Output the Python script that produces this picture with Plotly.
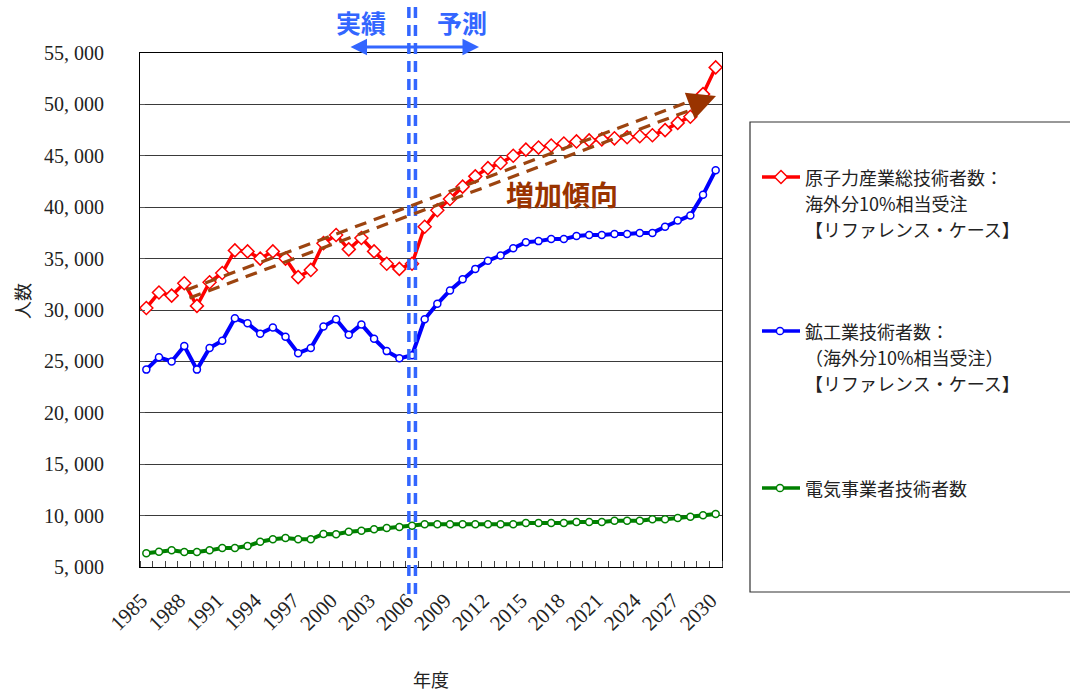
import plotly.graph_objects as go

# ---- data -------------------------------------------------------------
years = list(range(1985, 2031))

nuclear_total = [30200, 31700, 31400, 32600, 30400, 32700, 33600, 35800, 35700, 35000, 35700,
                 35000, 33200, 33900, 36500, 37300, 35900, 37000, 35700, 34500, 34000, 34500,
                 38100, 39700, 40800, 42000, 43000, 43800, 44300, 45000, 45600, 45800, 46000,
                 46200, 46400, 46500, 46600, 46700, 46800, 46900, 47000, 47500, 48200, 48800,
                 51000, 53600]

mining_industry = [24200, 25400, 25000, 26500, 24200, 26300, 27000, 29200, 28700, 27700, 28300,
                   27400, 25800, 26300, 28400, 29100, 27600, 28600, 27200, 26000, 25300, 25600,
                   29100, 30600, 31900, 33000, 34000, 34800, 35300, 36000, 36600, 36700, 36900,
                   36900, 37200, 37300, 37300, 37400, 37400, 37500, 37500, 38100, 38700, 39200,
                   41200, 43600]

electric_utility = [6330, 6490, 6620, 6460, 6460, 6620, 6850, 6850, 7040, 7460, 7690,
                    7820, 7690, 7690, 8210, 8180, 8430, 8530, 8670, 8790, 8890, 9020,
                    9150, 9150, 9150, 9150, 9150, 9150, 9150, 9150, 9280, 9280, 9280,
                    9280, 9380, 9380, 9380, 9500, 9500, 9500, 9640, 9640, 9770, 9890,
                    10030, 10160]

x_ticks = list(range(1985, 2031, 3))
y_ticks = list(range(5000, 55001, 5000))
y_ticktext = ["5, 000", "10, 000", "15, 000", "20, 000", "25, 000", "30, 000",
              "35, 000", "40, 000", "45, 000", "50, 000", "55, 000"]

boundary_year = 2006

legend_lines = [
    ["原子力産業総技術者数：", "海外分10%相当受注", "【リファレンス・ケース】"],
    ["鉱工業技術者数：", "（海外分10%相当受注）", "【リファレンス・ケース】"],
    ["電気事業者技術者数"],
]

# ---- layout geometry ----------------------------------------------------
W, H = 1070, 693
ML, MR, MT, MB = 140, 348, 53, 126
PW, PH = W - ML - MR, H - MT - MB

JP = "Noto Sans CJK JP"
SERIF = "Liberation Serif"
RED, BLUE, GREEN = "#ff0000", "#0000ff", "#008000"
MARK_BLUE = "#3366ff"
BROWN = "#993300"


def px(x, y):
    """pixel position -> paper coordinates"""
    return (x - ML) / PW, (MT + PH - y) / PH


def label(text, x, y, size, color="#222", xanchor="center", yanchor="middle", **kw):
    xp, yp = px(x, y)
    return dict(text=text, xref="paper", yref="paper", x=xp, y=yp,
                xanchor=xanchor, yanchor=yanchor, showarrow=False,
                font=dict(family=JP, size=size, color=color), **kw)


fig = go.Figure()

fig.add_trace(go.Scatter(
    x=years, y=nuclear_total, mode="lines+markers",
    line=dict(color=RED, width=3.5),
    marker=dict(symbol="diamond", size=10, color="white", line=dict(color=RED, width=1.5)),
    showlegend=False))
fig.add_trace(go.Scatter(
    x=years, y=mining_industry, mode="lines+markers",
    line=dict(color=BLUE, width=4),
    marker=dict(symbol="circle", size=7, color="white", line=dict(color=BLUE, width=1.5)),
    showlegend=False))
fig.add_trace(go.Scatter(
    x=years, y=electric_utility, mode="lines+markers",
    line=dict(color=GREEN, width=4),
    marker=dict(symbol="circle", size=7, color="white", line=dict(color=GREEN, width=1.5)),
    showlegend=False))

shapes = []
annotations = []

# double dashed divider between actual and forecast
for dx in (-0.25, 0.27):
    shapes.append(dict(type="line", xref="x", yref="paper",
                       x0=boundary_year + dx, x1=boundary_year + dx,
                       y0=px(0, 594)[1], y1=px(0, 2)[1],
                       line=dict(color=MARK_BLUE, width=3.5, dash="11px,7px"),
                       layer="above"))

# actual / forecast labels with two-way arrow
annotations.append(label("<b>実績</b>", 361, 22, 25, MARK_BLUE))
annotations.append(label("<b>予測</b>", 462, 22, 25, MARK_BLUE))
ax0, ay0 = px(479, 47)
annotations.append(dict(text="", xref="paper", yref="paper", x=ax0, y=ay0,
                        ax=-130, ay=0, showarrow=True, arrowside="end+start",
                        arrowhead=2, arrowsize=1.1, arrowwidth=3, arrowcolor=MARK_BLUE))

# upward-trend arrow (double dashed line with a solid head)
sx, sy = 188.0, 294.0
tx, ty = 716.0, 96.0
L = ((tx - sx) ** 2 + (ty - sy) ** 2) ** 0.5
ux, uy = (tx - sx) / L, (ty - sy) / L
nx, ny = -uy, ux
head_len, head_half = 28.0, 14.0
bx, by = tx - head_len * ux, ty - head_len * uy
for off in (-4.2, 4.2):
    p0 = px(sx + off * nx, sy + off * ny)
    p1 = px(bx + 2 * ux + off * nx, by + 2 * uy + off * ny)
    shapes.append(dict(type="line", xref="paper", yref="paper",
                       x0=p0[0], y0=p0[1], x1=p1[0], y1=p1[1],
                       line=dict(color="#9c4410", width=3.2, dash="12px,8px"),
                       layer="above"))
c1 = px(bx + head_half * nx, by + head_half * ny)
c2 = px(bx - head_half * nx, by - head_half * ny)
tp = px(tx, ty)
shapes.append(dict(type="path", xref="paper", yref="paper",
                   path=f"M {tp[0]},{tp[1]} L {c1[0]},{c1[1]} L {c2[0]},{c2[1]} Z",
                   fillcolor=BROWN, line=dict(width=0), layer="above"))
annotations.append(label("<b>増加傾向</b>", 562, 194, 28, BROWN))

# axis titles
annotations.append(label("年度", 431, 679, 18))
annotations.append(label("人数", 22, 301, 18, textangle=-90))

# legend panel
b0 = px(750, 592)
b1 = px(1078, 122)
shapes.append(dict(type="rect", xref="paper", yref="paper",
                   x0=b0[0], y0=b0[1], x1=b1[0], y1=b1[1],
                   line=dict(color="#333", width=1.2), fillcolor="rgba(0,0,0,0)"))

LINE_GAP = 26.2
entry_y = [177, 331, 488]
entry_col = [RED, BLUE, GREEN]
for i, (ey, col, lines) in enumerate(zip(entry_y, entry_col, legend_lines)):
    l0 = px(762, ey)
    l1 = px(800, ey)
    shapes.append(dict(type="line", xref="paper", yref="paper",
                       x0=l0[0], y0=l0[1], x1=l1[0], y1=l1[1],
                       line=dict(color=col, width=3.5)))
    if i == 0:
        r = 6.5
        pts = [px(781, ey - r), px(781 + r, ey), px(781, ey + r), px(781 - r, ey)]
        path = "M " + " L ".join(f"{a},{b}" for a, b in pts) + " Z"
        shapes.append(dict(type="path", xref="paper", yref="paper", path=path,
                           fillcolor="white", line=dict(color=col, width=1.5)))
    else:
        c0 = px(780 - 3.6, ey + 3.6)
        c1_ = px(780 + 3.6, ey - 3.6)
        shapes.append(dict(type="circle", xref="paper", yref="paper",
                           x0=c0[0], y0=c0[1], x1=c1_[0], y1=c1_[1],
                           fillcolor="white", line=dict(color=col, width=1.5)))
    for k, line in enumerate(lines):
        annotations.append(label(line, 804, ey + k * LINE_GAP, 18,
                                 xanchor="left", borderpad=0))

fig.update_layout(
    width=W, height=H,
    margin=dict(l=ML, r=MR, t=MT, b=MB, pad=0),
    paper_bgcolor="white", plot_bgcolor="white",
    showlegend=False,
    shapes=shapes, annotations=annotations,
    xaxis=dict(
        range=[1984.5, 2030.5], tickmode="array", tickvals=x_ticks,
        ticktext=[str(v) for v in x_ticks], tickangle=-45,
        tickfont=dict(family=SERIF, size=21, color="#222"),
        ticks="", ticklabelstandoff=12, ticklabelshift=-5,
        minor=dict(ticks="inside", tick0=1984.5, dtick=1, ticklen=6,
                   tickcolor="#444", tickwidth=1),
        showgrid=False, zeroline=False,
        showline=True, linecolor="#000", linewidth=1, mirror=True,
    ),
    yaxis=dict(
        range=[5000, 55000], tickmode="array", tickvals=y_ticks, ticktext=y_ticktext,
        tickfont=dict(family=SERIF, size=20, color="#222"),
        ticks="inside", ticklen=5, tickcolor="#555", ticklabelstandoff=31,
        showgrid=True, gridcolor="#3a3a3a", gridwidth=1, zeroline=False,
        showline=True, linecolor="#000", linewidth=1, mirror=True,
    ),
)

fig.write_html("out.html")
